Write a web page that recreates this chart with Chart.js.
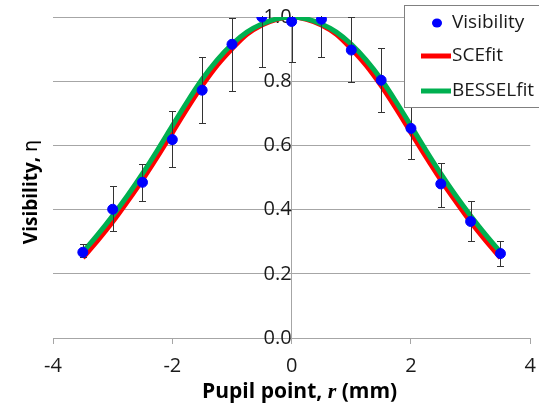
<!DOCTYPE html>
<html>
<head>
<meta charset="utf-8">
<title>Visibility vs pupil point</title>
<script src="https://cdn.jsdelivr.net/npm/chart.js@4.4.1/dist/chart.umd.min.js"></script>
<style>
  html, body { margin: 0; padding: 0; background: #fff; }
  #wrap { width: 539px; height: 404px; }
</style>
</head>
<body>
<div id="wrap"><canvas id="chart" width="539" height="404"></canvas></div>
<script>
// measured visibility and the ends of its error bars
const pupilR = [-3.5, -3, -2.5, -2, -1.5, -1, -0.5, 0, 0.5, 1, 1.5, 2, 2.5, 3, 3.5];
const visibility = [0.267, 0.401, 0.485, 0.618, 0.772, 0.915, 1.0, 0.986, 0.993, 0.897, 0.803, 0.653, 0.480, 0.363, 0.263];
const visLow = [0.251, 0.332, 0.428, 0.534, 0.670, 0.770, 0.845, 0.860, 0.876, 0.796, 0.704, 0.558, 0.407, 0.303, 0.223];
const visHigh = [0.292, 0.473, 0.541, 0.707, 0.876, 0.998, 1.155, 1.110, 1.110, 0.999, 0.902, 0.746, 0.546, 0.426, 0.303];

// fitted curves
const fitR = [-3.5, -3.25, -3, -2.75, -2.5, -2.25, -2, -1.75, -1.5, -1.25, -1, -0.75, -0.5, -0.25, 0,
              0.25, 0.5, 0.75, 1, 1.25, 1.5, 1.75, 2, 2.25, 2.5, 2.75, 3, 3.25, 3.5];
const sceFit = [0.250, 0.304, 0.362, 0.426, 0.493, 0.565, 0.640, 0.715, 0.786, 0.849, 0.901, 0.946, 0.975, 0.993, 1.0,
                0.993, 0.975, 0.946, 0.901, 0.849, 0.786, 0.715, 0.640, 0.565, 0.493, 0.426, 0.362, 0.304, 0.250];
const besselFit = [0.267, 0.322, 0.381, 0.444, 0.512, 0.585, 0.661, 0.736, 0.806, 0.866, 0.915, 0.953, 0.978, 0.994, 1.0,
                   0.994, 0.978, 0.953, 0.915, 0.866, 0.806, 0.736, 0.661, 0.585, 0.512, 0.444, 0.381, 0.322, 0.267];

const xTicks = [-4, -2, 0, 2, 4];
const yTicks = [0, 0.2, 0.4, 0.6, 0.8, 1.0];

const FONT = "'Open Sans', sans-serif";
const GRID = '#a6a6a6';
const BLUE = '#0000ff';
const RED = '#ff0000';
const GREEN = '#00b050';

function toPoints(xs, ys) {
  return xs.map((v, i) => ({ x: v, y: ys[i] }));
}

// vertical error bars, drawn just before the dots so they sit under them
const errorBars = {
  id: 'errorBars',
  beforeDatasetDraw(chart, args) {
    if (args.index !== 0) return;
    const { ctx, chartArea, scales: { x, y } } = chart;
    ctx.save();
    ctx.beginPath();
    ctx.rect(chartArea.left, chartArea.top - 1, chartArea.width, chartArea.height + 1);
    ctx.clip();
    ctx.strokeStyle = '#333';
    ctx.lineWidth = 1;
    pupilR.forEach((r, i) => {
      const px = Math.round(x.getPixelForValue(r)) + 0.5;
      const lo = Math.round(y.getPixelForValue(visLow[i])) + 0.5;
      const hi = Math.round(y.getPixelForValue(visHigh[i])) + 0.5;
      ctx.beginPath();
      ctx.moveTo(px, lo); ctx.lineTo(px, hi);
      ctx.moveTo(px - 3.5, lo); ctx.lineTo(px + 3.5, lo);
      ctx.moveTo(px - 3.5, hi); ctx.lineTo(px + 3.5, hi);
      ctx.stroke();
    });
    ctx.restore();
  }
};

// boxed legend in the top right corner
const boxLegend = {
  id: 'boxLegend',
  afterDraw(chart) {
    const { ctx } = chart;
    const left = 404, top = 5;
    ctx.save();
    ctx.fillStyle = '#fff';
    ctx.fillRect(left, top, chart.width - left + 5, 102);
    ctx.strokeStyle = '#808080';
    ctx.lineWidth = 1;
    ctx.strokeRect(left + 0.5, top + 0.5, chart.width - left + 5, 102);

    ctx.font = '19px ' + FONT;
    ctx.textBaseline = 'middle';
    ctx.textAlign = 'left';

    const items = [
      { label: 'Visibility', y: 23, type: 'dot', color: BLUE },
      { label: 'SCEfit', y: 56, type: 'line', color: RED },
      { label: 'BESSELfit', y: 91, type: 'line', color: GREEN }
    ];
    items.forEach(it => {
      if (it.type === 'dot') {
        ctx.beginPath();
        ctx.fillStyle = it.color;
        ctx.ellipse(437, it.y, 5, 4.5, 0, 0, Math.PI * 2);
        ctx.fill();
      } else {
        ctx.beginPath();
        ctx.strokeStyle = it.color;
        ctx.lineWidth = 5;
        ctx.moveTo(421, it.y);
        ctx.lineTo(451, it.y);
        ctx.stroke();
      }
      ctx.fillStyle = '#1a1a1a';
      ctx.fillText(it.label, 452, it.y);
    });
    ctx.restore();
  }
};

// draws a run of differently styled text pieces centred on (cx, cy)
function drawRun(ctx, parts, cx, cy) {
  let total = 0;
  parts.forEach(p => { ctx.font = p.f; p.w = ctx.measureText(p.t).width; total += p.w; });
  let px = cx - total / 2;
  parts.forEach(p => {
    ctx.font = p.f;
    ctx.fillText(p.t, px, cy);
    px += p.w;
  });
}

// axis titles: italic r on the x title, plain eta on the y title
const axisTitles = {
  id: 'axisTitles',
  afterDraw(chart) {
    const { ctx, chartArea } = chart;
    ctx.save();
    ctx.fillStyle = '#000';
    ctx.textBaseline = 'alphabetic';
    ctx.textAlign = 'left';
    drawRun(ctx, [
      { t: 'Pupil point, ', f: 'bold 21px ' + FONT },
      { t: 'r', f: 'italic bold 22px "Liberation Serif", serif' },
      { t: ' (mm)', f: 'bold 21px ' + FONT }
    ], (chartArea.left + chartArea.right) / 2 + 8, 398);

    ctx.translate(37, 192);
    ctx.rotate(-Math.PI / 2);
    drawRun(ctx, [
      { t: 'Visibility, ', f: 'bold 19px ' + FONT },
      { t: 'η', f: '19px "DejaVu Sans", sans-serif' }
    ], 0, 0);
    ctx.restore();
  }
};

new Chart(document.getElementById('chart'), {
  type: 'scatter',
  data: {
    datasets: [
      {
        label: 'Visibility',
        data: toPoints(pupilR, visibility),
        backgroundColor: BLUE,
        borderColor: BLUE,
        pointRadius: 5,
        pointHoverRadius: 5,
        showLine: false
      },
      {
        label: 'BESSELfit',
        data: toPoints(fitR, besselFit),
        borderColor: GREEN,
        borderWidth: 5,
        pointRadius: 0,
        showLine: true,
        cubicInterpolationMode: 'monotone'
      },
      {
        label: 'SCEfit',
        data: toPoints(fitR, sceFit),
        borderColor: RED,
        borderWidth: 5,
        pointRadius: 0,
        showLine: true,
        cubicInterpolationMode: 'monotone'
      }
    ]
  },
  options: {
    responsive: false,
    animation: false,
    layout: { padding: { left: 53, right: 6, top: 17, bottom: 16 } },
    plugins: {
      legend: { display: false },
      tooltip: { enabled: false }
    },
    scales: {
      x: {
        type: 'linear',
        position: 'bottom',
        min: -4,
        max: 4,
        afterBuildTicks: s => { s.ticks = xTicks.map(v => ({ value: v })); },
        grid: { drawOnChartArea: false, drawTicks: true, tickLength: 6, color: GRID },
        border: { color: GRID },
        ticks: { padding: 3, font: { family: FONT, size: 20, lineHeight: 1.9 }, color: '#1a1a1a' }
      },
      y: {
        type: 'linear',
        position: { x: 0 },
        min: 0,
        max: 1,
        afterBuildTicks: s => { s.ticks = yTicks.map(v => ({ value: v })); },
        grid: { color: GRID, drawTicks: true, tickLength: 23 },
        border: { color: GRID },
        ticks: { padding: 0, font: { family: FONT, size: 20 }, color: '#1a1a1a', callback: v => v.toFixed(1) }
      }
    }
  },
  plugins: [errorBars, boxLegend, axisTitles]
});
</script>
</body>
</html>
